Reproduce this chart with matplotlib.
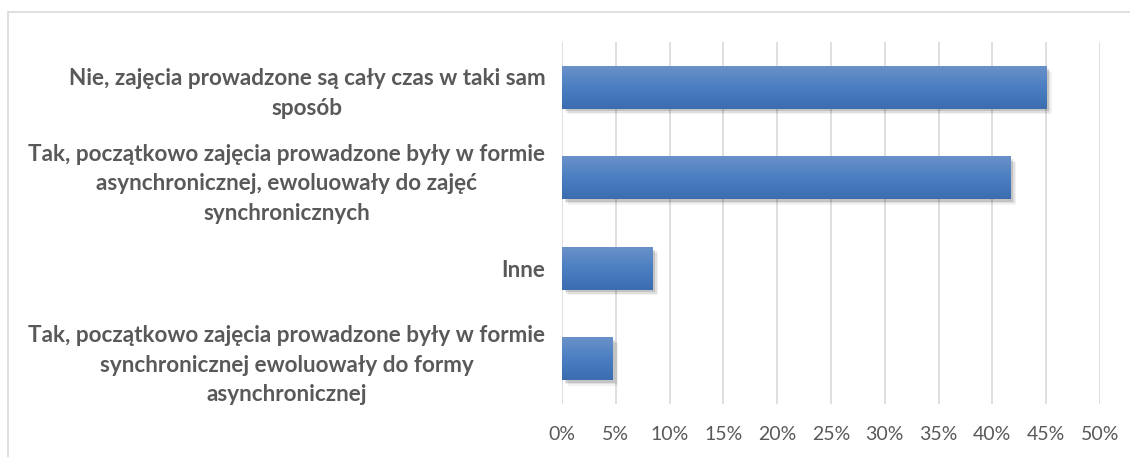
import numpy as np
import matplotlib.pyplot as plt
import matplotlib.patheffects as pe
from matplotlib.patches import Rectangle
from matplotlib.ticker import PercentFormatter

categories = [
    "Nie, zajęcia prowadzone są cały czas w taki sam\nsposób",
    "Tak, początkowo zajęcia prowadzone były w formie\nasynchronicznej, ewoluowały do zajęć\nsynchronicznych",
    "Inne",
    "Tak, początkowo zajęcia prowadzone były w formie\nsynchronicznej ewoluowały do formy\nasynchronicznej",
]
values = [45.0, 41.7, 8.4, 4.7]

TEXT = "#595959"
plt.rcParams["font.family"] = ["Lato", "DejaVu Sans"]


def main():
    fig = plt.figure(figsize=(11.3, 4.57), dpi=100)
    fig.patches.append(Rectangle((8 / 1130, -0.1), 1.2, 1 + 0.1 - 12 / 457,
                                 transform=fig.transFigure, fill=False,
                                 edgecolor="#d9d9d9", linewidth=1.2))
    ax = fig.add_axes([562 / 1130, 1 - 404 / 457, 538 / 1130, 362 / 457])

    y = np.arange(len(categories))
    shadow = [pe.SimplePatchShadow(offset=(o, -o), shadow_rgbFace="#000000", alpha=a)
              for o, a in [(4, 0.05), (3, 0.08), (2, 0.12)]]
    bars = ax.barh(y, values, height=0.47, color="#4a7dc0", zorder=3,
                   path_effects=shadow + [pe.Normal()])

    # vertical gradient on each bar
    grad = np.linspace(0, 1, 64).reshape(-1, 1)
    cmap = plt.matplotlib.colors.LinearSegmentedColormap.from_list(
        "bar", ["#6a91c9", "#4a7fc1", "#3b6db0"])
    for b in bars:
        x0, y0 = b.get_x(), b.get_y()
        w, h = b.get_width(), b.get_height()
        im = ax.imshow(grad, cmap=cmap, aspect="auto", zorder=4,
                       extent=[x0, x0 + w, y0 + h, y0], interpolation="bicubic")
        im.set_clip_path(b)

    ax.set_xlim(0, 50)
    ax.set_ylim(len(categories) - 0.5, -0.5)
    ax.set_xticks(np.arange(0, 51, 5))
    ax.xaxis.set_major_formatter(PercentFormatter(decimals=0))
    ax.set_yticks(y)
    ax.set_yticklabels(categories, fontsize=16.2, fontweight="bold", color=TEXT,
                       multialignment="center", linespacing=1.5)
    ax.tick_params(axis="y", length=0, pad=12)
    ax.tick_params(axis="x", length=0, pad=16, labelsize=14, labelcolor=TEXT)
    ax.grid(axis="x", color="#d9d9d9", linewidth=1.2, zorder=0)
    for s in ax.spines.values():
        s.set_visible(False)

    plt.savefig("out.png", dpi=100)
    plt.close()


if __name__ == "__main__":
    main()
